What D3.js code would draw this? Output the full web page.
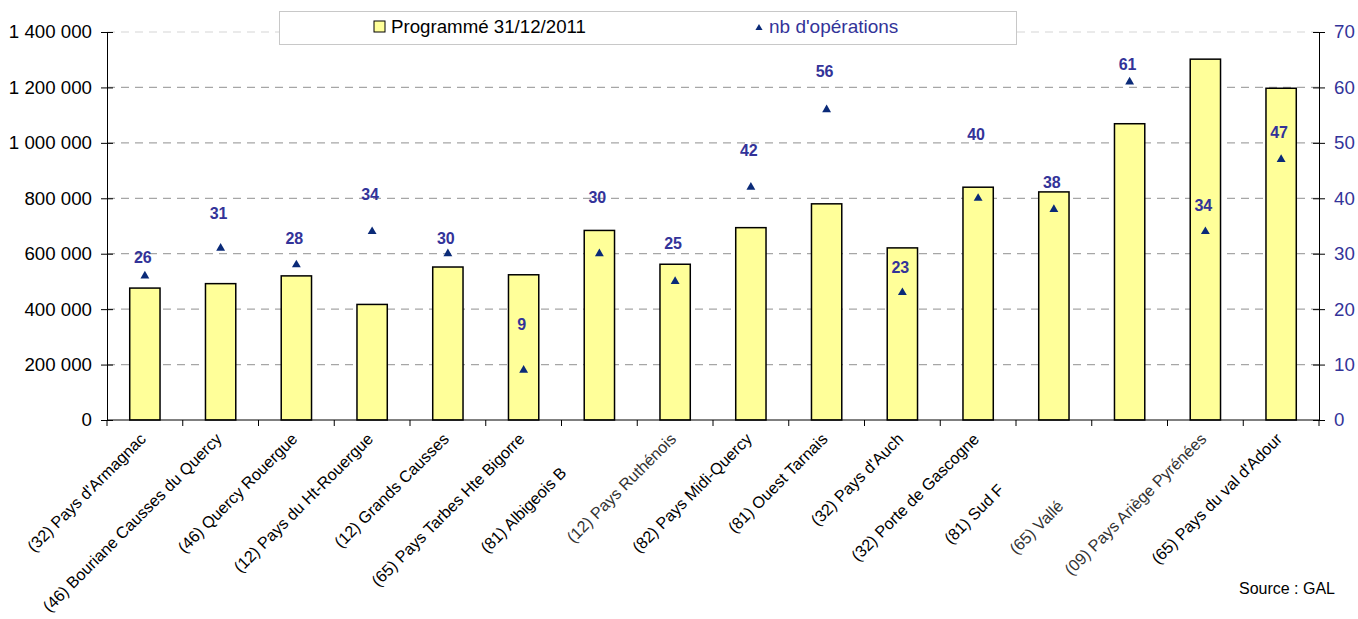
<!DOCTYPE html>
<html>
<head>
<meta charset="utf-8">
<script src="https://cdn.jsdelivr.net/npm/d3@7"></script>
<style>
  body { margin: 0; background: #fff; }
  svg { display: block; font-family: "Liberation Sans", Arial, sans-serif; }
</style>
</head>
<body>
<script>
/** data **/
var categories = [
    "(32) Pays d'Armagnac",
    "(46) Bouriane Causses du Quercy",
    "(46) Quercy Rouergue",
    "(12) Pays du Ht-Rouergue",
    "(12) Grands Causses",
    "(65) Pays Tarbes Hte Bigorre",
    "(81) Albigeois B",
    "(12) Pays Ruthénois",
    "(82) Pays Midi-Quercy",
    "(81) Ouest Tarnais",
    "(32) Pays d'Auch",
    "(32) Porte de Gascogne",
    "(81) Sud F",
    "(65) Vallé",
    "(09) Pays Ariège Pyrénées",
    "(65) Pays du val d'Adour"
];
var programme = [476000, 492000, 520000, 417000, 552000, 524000, 684000, 562000,
                 694000, 780000, 621000, 840000, 823000, 1069000, 1302000, 1197000];
var operations = [26, 31, 28, 34, 30, 9, 30, 25, 42, 56, 23, 40, 38, 61, 34, 47];
var leftTicks = [0, 200000, 400000, 600000, 800000, 1000000, 1200000, 1400000];
var rightTicks = [0, 10, 20, 30, 40, 50, 60, 70];
var seriesNames = ["Programmé 31/12/2011", "nb d'opérations"];
var sourceText = "Source : GAL";

/** layout (label placement, px) **/
var labelLift = [19, 35, 27, 38, 16, 46, 57, 38, 37, 39, 26, 64, 27, 18, 27, 27];
var labelCut = [0, 0, 0, 0, 0, 0, 48, 0, 0, 0, 0, 0, 72, 95, 0, 0];

var width = 1358, height = 619;
var plot = { left: 107, right: 1319, top: 32, bottom: 420 };
var blue = "#333399", navy = "#0a2a78";

var svg = d3.select("body").append("svg")
    .attr("width", width).attr("height", height);

var x = d3.scaleBand().domain(categories)
    .range([plot.left, plot.right]).paddingInner(0.6).paddingOuter(0.3);
var yL = d3.scaleLinear().domain([0, 1400000]).range([plot.bottom, plot.top]);
var yR = d3.scaleLinear().domain([0, 70]).range([plot.bottom, plot.top]);
var fmt = d3.formatLocale({ decimal: ",", thousands: " ", grouping: [3], currency: ["", ""] }).format(",");

// grid
svg.append("g").selectAll("line")
    .data(leftTicks.filter(d => d > 0))
    .enter().append("line")
    .attr("x1", plot.left).attr("x2", plot.right)
    .attr("y1", d => yL(d)).attr("y2", d => yL(d))
    .attr("stroke", d => d == 1400000 ? "#e4e4e4" : "#a6a6a6")
    .attr("stroke-width", 1.3)
    .attr("stroke-dasharray", "8,6");

// bars
svg.append("g").selectAll("rect")
    .data(programme)
    .enter().append("rect")
    .attr("x", (d, i) => x(categories[i]))
    .attr("width", x.bandwidth())
    .attr("y", d => yL(d))
    .attr("height", d => yL(0) - yL(d))
    .attr("fill", "#ffff99")
    .attr("stroke", "#000")
    .attr("stroke-width", 1.5);

// axes
var axL = svg.append("g").attr("transform", "translate(" + plot.left + ",0)")
    .call(d3.axisLeft(yL).tickValues(leftTicks).tickFormat(fmt).tickSize(6).tickSizeOuter(0).tickPadding(9));
axL.selectAll(".tick line").attr("x2", 6).attr("x1", -6);
axL.selectAll("text").attr("font-size", 18.7).attr("fill", "#000").attr("font-family", null);

var axR = svg.append("g").attr("transform", "translate(" + plot.right + ",0)")
    .call(d3.axisRight(yR).tickValues(rightTicks).tickSize(6).tickSizeOuter(0).tickPadding(9));
axR.selectAll(".tick line").attr("x1", -6).attr("x2", 6);
axR.selectAll("text").attr("font-size", 18.7).attr("fill", blue).attr("font-family", null);

var axB = svg.append("g").attr("transform", "translate(0," + plot.bottom + ")");
axB.append("line").attr("x1", plot.left).attr("x2", plot.right).attr("stroke", "#000");
axB.selectAll(".tk")
    .data(d3.range(categories.length + 1))
    .enter().append("line")
    .attr("x1", i => plot.left + i * x.step()).attr("x2", i => plot.left + i * x.step())
    .attr("y1", 0).attr("y2", 6).attr("stroke", "#000");

axB.selectAll(".lbl")
    .data(categories)
    .enter().append("text")
    .attr("transform", (d, i) => "translate(" + (x(d) + x.bandwidth() / 2 + 2) + ",20) rotate(-45)")
    .attr("x", (d, i) => -labelCut[i])
    .attr("text-anchor", "end")
    .attr("font-size", 16.2)
    .attr("fill", (d, i) => i == 7 || i == 13 || i == 14 ? "#333" : "#000")
    .text(d => d);

// markers and labels
var cx = i => x(categories[i]) + x.bandwidth() / 2;
svg.append("g").selectAll("path")
    .data(operations)
    .enter().append("path")
    .attr("d", d3.symbol(d3.symbolTriangle, 34))
    .attr("transform", (d, i) => "translate(" + cx(i) + "," + yR(d) + ")")
    .attr("fill", navy);

svg.append("g").selectAll("text")
    .data(operations)
    .enter().append("text")
    .attr("x", (d, i) => cx(i) - 2)
    .attr("y", (d, i) => yR(d) - labelLift[i] + 6)
    .attr("text-anchor", "middle")
    .attr("font-size", 16)
    .attr("font-weight", "bold")
    .attr("fill", blue)
    .text(d => d);

// legend
var lg = svg.append("g");
lg.append("rect").attr("x", 279.5).attr("y", 11.5).attr("width", 737).attr("height", 33)
    .attr("fill", "#fff").attr("stroke", "#c8c8c8");
lg.append("rect").attr("x", 374).attr("y", 21).attr("width", 11).attr("height", 11)
    .attr("fill", "#ffff99").attr("stroke", "#000");
lg.append("text").attr("x", 391).attr("y", 33).attr("font-size", 18.7).attr("fill", "#000").text(seriesNames[0]);
lg.append("path").attr("d", d3.symbol(d3.symbolTriangle, 22))
    .attr("transform", "translate(759,28)").attr("fill", navy);
lg.append("text").attr("x", 769).attr("y", 33).attr("font-size", 19).attr("fill", blue).text(seriesNames[1]);

svg.append("text").attr("x", 1335).attr("y", 594).attr("text-anchor", "end")
    .attr("font-size", 16).attr("fill", "#000").text(sourceText);
</script>
</body>
</html>
